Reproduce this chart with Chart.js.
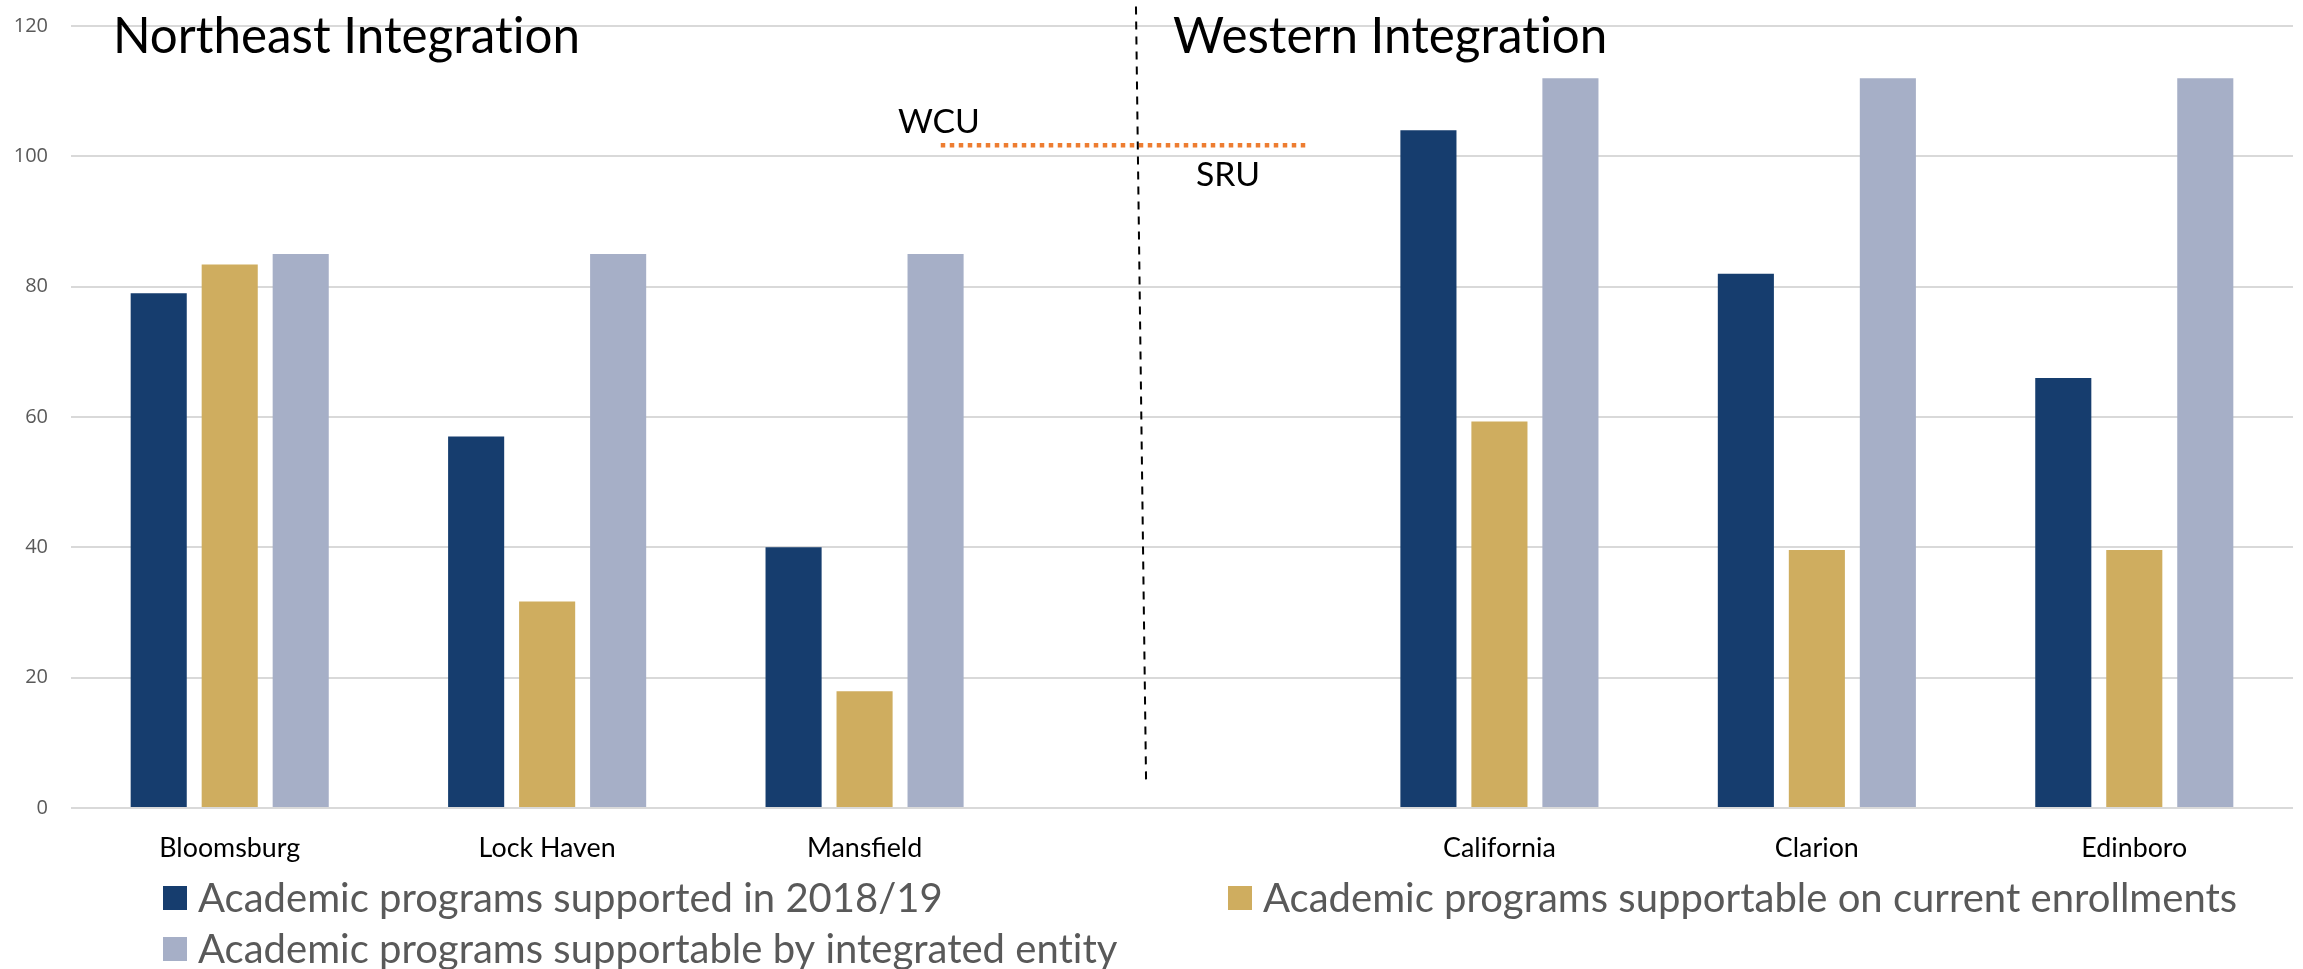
<!DOCTYPE html>
<html><head><meta charset="utf-8">
<script src="https://cdn.jsdelivr.net/npm/chart.js@4.4.0/dist/chart.umd.min.js"></script>
<style>html,body{margin:0;padding:0;background:#fff;} #wrap{width:2303px;height:969px;position:relative;}</style>
</head><body><div id="wrap"><canvas id="c" width="2303" height="969"></canvas></div>
<script>
// ---- data ----
const categories = ['Bloomsburg', 'Lock Haven', 'Mansfield', '', 'California', 'Clarion', 'Edinboro'];
const seriesNames = [
  'Academic programs supported in 2018/19',
  'Academic programs supportable on current enrollments',
  'Academic programs supportable by integrated entity'
];
const supported2018 = [79, 57, 40, null, 104, 82, 66];
const supportableCurrent = [83.4, 31.7, 17.9, null, 59.3, 39.6, 39.6];
const supportableIntegrated = [85, 85, 85, null, 112, 112, 112];
const yTicks = [0, 20, 40, 60, 80, 100, 120];
const groupTitles = ['Northeast Integration', 'Western Integration'];
const refLabels = ['WCU', 'SRU'];
const refLineValue = [101.7, 101.7];
const refLineX = [2.24, 3.40];
const dividerX = [2.855, 2.887];
const dividerY = [123, 3.5];

// ---- styles ----
const COLORS = ['#163d6e', '#cfad5f', '#a6afc7'];
const FONT = 'Lato, "Open Sans", sans-serif';
const mctx = document.createElement('canvas').getContext('2d');
function fit(text, width, family) {
  mctx.font = '100px ' + family;
  mctx.letterSpacing = '0.01px';
  return 100 * width / mctx.measureText(text).width;
}
const xTickSize = fit('Bloomsburg', 141, FONT);
const titleSize = fit('Northeast Integration', 467, FONT);
const refSize = fit('WCU', 82, FONT);
const legendSize = fit(seriesNames[1], 974, FONT);

const overlayPlugin = {
  id: 'overlay',
  afterDatasetsDraw(chart) {
    const ctx = chart.ctx;
    const x = chart.scales.x, y = chart.scales.y;
    ctx.save();
    ctx.letterSpacing = '0.01px';
    // orange dotted reference line
    ctx.strokeStyle = '#ed7d31';
    ctx.lineWidth = 4.5;
    ctx.setLineDash([4.5, 4.5]);
    ctx.beginPath();
    ctx.moveTo(x.getPixelForValue(refLineX[0]), y.getPixelForValue(refLineValue[0]));
    ctx.lineTo(x.getPixelForValue(refLineX[1]), y.getPixelForValue(refLineValue[1]));
    ctx.stroke();
    // dashed divider
    ctx.strokeStyle = '#000';
    ctx.lineWidth = 2;
    ctx.setLineDash([8, 7]);
    ctx.beginPath();
    ctx.moveTo(x.getPixelForValue(dividerX[0]), y.getPixelForValue(dividerY[0]));
    ctx.lineTo(x.getPixelForValue(dividerX[1]), y.getPixelForValue(dividerY[1]));
    ctx.stroke();
    ctx.setLineDash([]);
    // group titles
    ctx.fillStyle = '#000';
    ctx.textBaseline = 'alphabetic';
    ctx.textAlign = 'left';
    ctx.font = titleSize.toFixed(2) + 'px ' + FONT;
    ctx.fillText(groupTitles[0], x.getPixelForValue(-0.368), y.getPixelForValue(115.8));
    ctx.fillText(groupTitles[1], x.getPixelForValue(2.972), y.getPixelForValue(115.8));
    // reference labels
    ctx.font = refSize.toFixed(2) + 'px ' + FONT;
    ctx.fillText(refLabels[0], x.getPixelForValue(2.105), y.getPixelForValue(103.6));
    ctx.fillText(refLabels[1], x.getPixelForValue(3.044), y.getPixelForValue(95.5));
    // legend
    const pos = [[163, 886], [1228, 886], [163, 937]];
    ctx.font = legendSize.toFixed(2) + 'px ' + FONT;
    ctx.textBaseline = 'middle';
    chart.data.datasets.forEach((ds, i) => {
      const [bx, by] = pos[i];
      ctx.fillStyle = ds.backgroundColor;
      ctx.fillRect(bx, by, 24, 24);
      ctx.fillStyle = '#595959';
      ctx.fillText(ds.label, bx + 35, by + 13);
    });
    ctx.restore();
  }
};

new Chart(document.getElementById('c'), {
  type: 'bar',
  data: {
    labels: categories,
    datasets: [
      { label: seriesNames[0], data: supported2018, backgroundColor: COLORS[0] },
      { label: seriesNames[1], data: supportableCurrent, backgroundColor: COLORS[1] },
      { label: seriesNames[2], data: supportableIntegrated, backgroundColor: COLORS[2] }
    ]
  },
  options: {
    responsive: false,
    devicePixelRatio: 1,
    animation: false,
    datasets: { bar: { barPercentage: 0.79, categoryPercentage: 0.671 } },
    layout: { padding: { left: 0, right: 10, top: 26, bottom: 101 } },
    plugins: { legend: { display: false }, tooltip: { enabled: false } },
    scales: {
      x: {
        type: 'category',
        grid: { display: false, drawTicks: false },
        border: { display: false },
        ticks: { color: '#000', font: { family: FONT, size: xTickSize }, padding: 24, maxRotation: 0, autoSkip: false },
        afterFit: s => { s.height = 60; }
      },
      y: {
        min: 0, max: 120,
        afterBuildTicks: s => { s.ticks = yTicks.map(v => ({ value: v })); },
        grid: { color: '#d9d9d9', lineWidth: 2, drawTicks: false },
        border: { display: false },
        ticks: { color: '#595959', font: { family: '"Open Sans", sans-serif', size: 20 }, padding: 23 },
        afterFit: s => { s.width = 71; s.paddingTop = 0; s.paddingBottom = 0; }
      }
    }
  },
  plugins: [overlayPlugin]
});
</script></body></html>
